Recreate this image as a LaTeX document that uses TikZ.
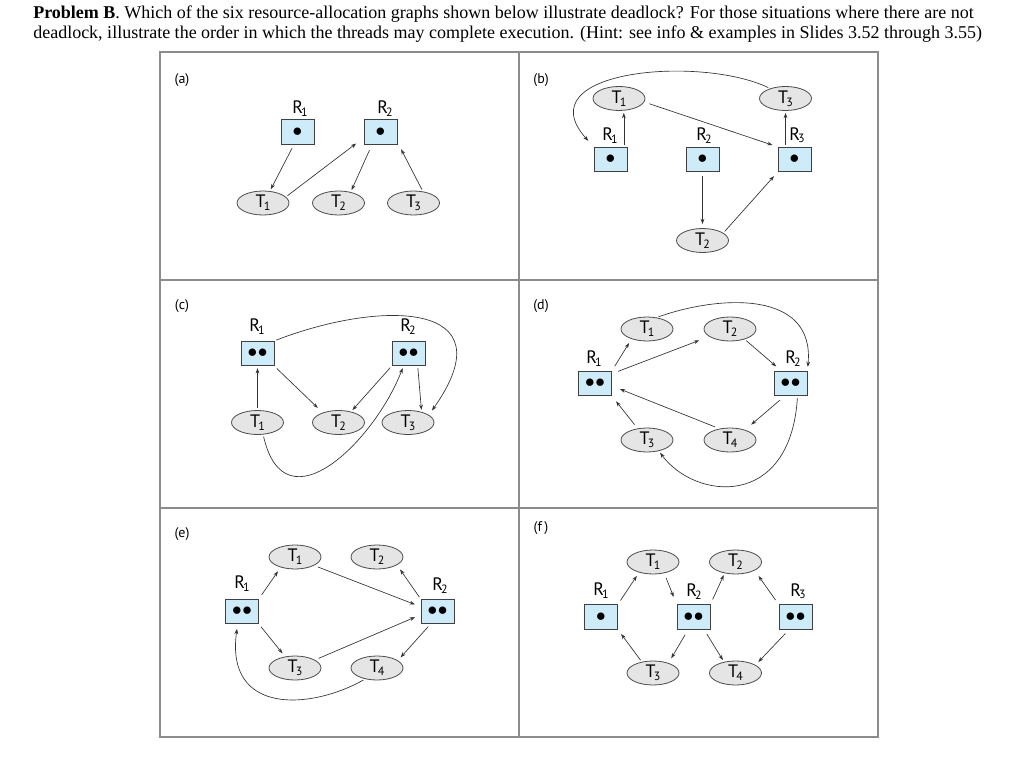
\documentclass[tikz,border=0pt]{standalone}
\usepackage{fontspec}
\setmainfont{Liberation Serif}
\newfontfamily\pfont[Numbers=Lining]{PT Sans}
\usetikzlibrary{shapes.geometric,arrows.meta}
\definecolor{boxblue}{HTML}{CDEBF9}
\definecolor{ellgray}{HTML}{E5E5E5}
\definecolor{edgec}{HTML}{333333}
\definecolor{gridc}{HTML}{8C8C8C}
\newcommand\nsub[2]{#1\kern-0.1em\raisebox{-0.3ex}{\fontsize{9}{9}\selectfont #2}}
\newcommand\onedot{$\bullet$}
\newcommand\twodot{${\bullet}\mkern0.5mu{\bullet}$}
\begin{document}
\begin{tikzpicture}[x=0.75pt,y=-0.75pt,
 rbox/.style={draw=black!75, fill=boxblue, line width=0.6pt, minimum width=24.75pt, minimum height=18.4pt, inner sep=0pt, font=\fontsize{14.5}{14.5}\selectfont},
 tell/.style={ellipse, draw=black!70, fill=ellgray, line width=0.6pt, minimum width=39pt, minimum height=18pt, inner sep=0pt, font=\pfont\fontsize{13.5}{13.5}\selectfont},
 lab/.style={inner sep=0pt, yshift=2pt, font=\pfont\fontsize{13.5}{13.5}\selectfont},
 plab/.style={inner sep=0pt, font=\pfont\fontsize{10.5}{10.5}\selectfont},
 arr/.style={draw=edgec, line width=0.5pt, -{Stealth[length=4pt,width=2.8pt]}, shorten <=1.5pt, shorten >=1.5pt},
 hdr/.style={anchor=base west, inner sep=0pt, font=\fontsize{13.5}{15}\selectfont},
]
\useasboundingbox (0,0) rectangle (1024,770);
\fill[white] (0,0) rectangle (1024,770);
% header
\node[hdr] (h1) at (33,19) {\textbf{Problem B}. Which of the six resource-allocation graphs shown below illustrate deadlock? For those situations where there are not};
\node[hdr] (h2) at (33,39) {deadlock, illustrate the order in which the threads may complete execution. (Hint: see info \& examples in Slides 3.52 through 3.55)};
% grid
\draw[gridc, line width=0.9pt] (160,52) rectangle (878,737);
\draw[gridc, line width=0.9pt] (519,52) -- (519,737);
\draw[gridc, line width=0.9pt] (160,280) -- (878,280);
\draw[gridc, line width=0.9pt] (160,508) -- (878,508);
% panel labels
\node[plab] (pa) at (182,80) {(a)};
\node[plab] (pb) at (541,80) {(b)};
\node[plab] (pc) at (182,306) {(c)};
\node[plab] (pd) at (541,306) {(d)};
\node[plab] (pe) at (182,534) {(e)};
\node[plab] (pf) at (541,528) {(f\,)};
% ---------- (a)
\node[rbox] (aR1) at (297.5,132) {\onedot};
\node[rbox] (aR2) at (380.5,132) {\onedot};
\node[tell] (aT1) at (263,203) {\nsub{T}{1}};
\node[tell] (aT2) at (338.5,203) {\nsub{T}{2}};
\node[tell] (aT3) at (413.5,203) {\nsub{T}{3}};
\node[lab] (aL1) at (300,111) {\nsub{R}{1}};
\node[lab] (aL2) at (385,111) {\nsub{R}{2}};
\draw[arr, shorten <=3pt] (aR1.254) -- (aT1.60);
\draw[arr, shorten >=7pt] (aT1.15) -- (aR2.199);
\draw[arr, shorten <=4.5pt] (aR2.236) -- (aT2.42);
\draw[arr, shorten >=6pt] (aT3.51) -- (aR2.329);
% ---------- (b)
\node[tell] (bT1) at (619,98.5) {\nsub{T}{1}};
\node[tell] (bT3) at (785.5,98.5) {\nsub{T}{3}};
\node[rbox] (bR1) at (610.5,159.5) {\onedot};
\node[rbox] (bR2) at (702.5,159.5) {\onedot};
\node[rbox] (bR3) at (794.5,159.5) {\onedot};
\node[tell] (bT2) at (702.5,240.5) {\nsub{T}{2}};
\node[lab] (bL1) at (610,138) {\nsub{R}{1}};
\node[lab] (bL2) at (704,138) {\nsub{R}{2}};
\node[lab] (bL3) at (797,138) {\nsub{R}{3}};
\draw[arr] ([xshift=10pt]bR1.north) -- ([xshift=10pt]bR1.north |- bT1.south);
\draw[arr, shorten <=4pt, shorten >=4pt] (bT1.352) -- (bR3.north west);
\draw[arr] (bT3.south |- bR3.north) -- (bT3.south);
\draw[arr, shorten >=6pt] (bT3.147) .. controls (700,55) and (525,70) .. (bR1.north west);
\draw[arr, shorten <=3pt, shorten >=3pt] (bR2.south) -- (bT2.north);
\draw[arr, shorten >=4pt] (bT2.20) -- (bR3.south west);
% ---------- (c)
\node[rbox] (cR1) at (257.5,353.5) {\twodot};
\node[rbox] (cR2) at (408.5,353.5) {\twodot};
\node[tell] (cT1) at (257.5,422.5) {\nsub{T}{1}};
\node[tell] (cT2) at (338.5,422.5) {\nsub{T}{2}};
\node[tell] (cT3) at (408,422.5) {\nsub{T}{3}};
\node[lab] (cL1) at (257,329) {\nsub{R}{1}};
\node[lab] (cL2) at (408,329) {\nsub{R}{2}};
\draw[arr] (cT1.north) -- (cR1.south);
\draw[arr, shorten <=2.5pt, shorten >=5pt] (cR1.south east) -- (cT2.148);
\draw[arr] (cR2.south west) -- (cT2.41);
\draw[arr] (cR2.306) -- (cT3.38);
\draw[arr, shorten >=4pt] (cR1.north east) .. controls (380,300) and (510,300) .. (cT3.20);
\draw[arr] (cT1.295) .. controls (285,530) and (375,440) .. (cR2.248);
% ---------- (d)
\node[tell] (dT1) at (647,329) {\nsub{T}{1}};
\node[tell] (dT2) at (730,329) {\nsub{T}{2}};
\node[rbox] (dR1) at (595,383.5) {\twodot};
\node[rbox] (dR2) at (790.5,383.5) {\twodot};
\node[tell] (dT3) at (647,440) {\nsub{T}{3}};
\node[tell] (dT4) at (730,440) {\nsub{T}{4}};
\node[lab] (dL1) at (594,361) {\nsub{R}{1}};
\node[lab] (dL2) at (793,361) {\nsub{R}{2}};
\draw[arr, shorten <=4pt, shorten >=3.5pt] (dR1.north east) -- (dT1.213);
\draw[arr, shorten <=5pt, shorten >=8pt] (dR1.30) -- (dT2.200);
\draw[arr, shorten >=5pt] (dT2.325) -- (dR2.126);
\draw[arr, shorten >=3pt] (dT1.50) .. controls (720,295) and (815,290) .. (dR2.north east);
\draw[arr, shorten <=4.5pt, shorten >=6pt] (dR2.245) -- (dT4.34);
\draw[arr, shorten <=3.5pt, shorten >=6.5pt] (dT4.133) -- (dR1.352);
\draw[arr, shorten <=3.5pt, shorten >=5pt] (dT3.129) -- (dR1.south east);
\draw[arr] (dR2.299) .. controls (790,510) and (695,500) .. (dT3.317);
% ---------- (e)
\node[tell] (eT1) at (295,557) {\nsub{T}{1}};
\node[tell] (eT2) at (377,557) {\nsub{T}{2}};
\node[rbox] (eR1) at (242,611.5) {\twodot};
\node[rbox] (eR2) at (437.5,611.5) {\twodot};
\node[tell] (eT3) at (295,668) {\nsub{T}{3}};
\node[tell] (eT4) at (377,668) {\nsub{T}{4}};
\node[lab] (eL1) at (242,586) {\nsub{R}{1}};
\node[lab] (eL2) at (440,588) {\nsub{R}{2}};
\draw[arr, shorten <=3.5pt, shorten >=3.5pt] (eR1.north east) -- (eT1.216);
\draw[arr, shorten <=3pt, shorten >=4.5pt] (eT1.336) -- (eR2.164);
\draw[arr, shorten >=4pt] (eR2.north west) -- (eT2.338);
\draw[arr, shorten <=2.5pt, shorten >=3pt] (eR1.south east) -- (eT3.131);
\draw[arr, shorten <=3pt, shorten >=4.5pt] (eT3.22) -- (eR2.191);
\draw[arr, shorten <=2.5pt, shorten >=3pt] (eR2.241) -- (eT4.20);
\draw[arr, shorten >=3.5pt] (eT4.223) .. controls (310,710) and (225,715) .. (eR1.251);
% ---------- (f)
\node[tell] (fT1) at (653,562) {\nsub{T}{1}};
\node[tell] (fT2) at (735.5,562) {\nsub{T}{2}};
\node[rbox] (fR1) at (601,617) {\onedot};
\node[rbox] (fR2) at (693.5,617) {\twodot};
\node[rbox] (fR3) at (795.5,617) {\twodot};
\node[tell] (fT3) at (653,673) {\nsub{T}{3}};
\node[tell] (fT4) at (735.5,673) {\nsub{T}{4}};
\node[lab] (fL1) at (601,593) {\nsub{R}{1}};
\node[lab] (fL2) at (694,594) {\nsub{R}{2}};
\node[lab] (fL3) at (798,594) {\nsub{R}{3}};
\draw[arr, shorten <=3.5pt, shorten >=3pt] (fR1.north east) -- (fT1.217);
\draw[arr, shorten <=4pt, shorten >=6pt] (fT1.315) -- (fR2.north west);
\draw[arr, shorten <=4pt] (fR2.north east) -- (fT2.226);
\draw[arr, shorten <=4pt, shorten >=5pt] (fR3.north west) -- (fT2.336);
\draw[arr, shorten <=4.5pt, shorten >=4pt] (fR2.247) -- (fT3.33);
\draw[arr, shorten >=4pt] (fT3.135) -- (fR1.south east);
\draw[arr, shorten <=4pt] (fR2.310) -- (fT4.136);
\draw[arr, shorten <=4pt, shorten >=3pt] (fR3.243) -- (fT4.22);
\end{tikzpicture}
\end{document}
